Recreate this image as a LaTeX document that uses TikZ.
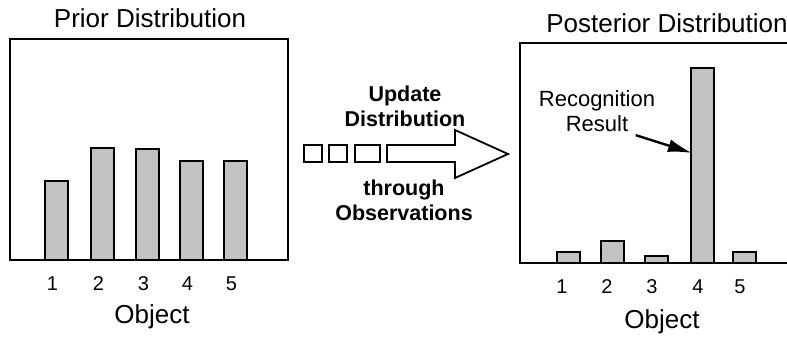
\documentclass[tikz,border=0pt]{standalone}
\usepackage{fontspec}
\setmainfont{Liberation Sans}
\usetikzlibrary{arrows.meta}
\definecolor{cBar}{gray}{0.76}

\tikzset{
    frame/.style={line width=2.4pt, draw=black},
    bar/.style={line width=2.8pt, draw=black, fill=cBar},
    title/.style={font=\fontsize{26}{30}\selectfont},
    tick/.style={font=\fontsize{20}{22}\selectfont},
    axis/.style={font=\fontsize{26}{30}\selectfont},
    step label/.style={font=\fontsize{21.5}{25}\selectfont\bfseries, align=center},
    note/.style={font=\fontsize{22}{25}\selectfont, align=center}
}

\begin{document}
\begin{tikzpicture}[x=1pt, y=-1pt]
    \useasboundingbox (0,0) rectangle (787,337);
    \clip (0,0) rectangle (787,337);

    % Prior distribution panel
    \node[title] (priorT) at (150,18) {Prior Distribution};
    \draw[frame] (10,260) |- (288,39) -- (288,260) -- cycle;
    \foreach \x/\h [count=\i] in {45/181, 91/148, 136/149, 180/161, 224/161} {
        \draw[bar] (\x,260) rectangle (\x+23,\h);
        \node[tick] (priorN\i) at (\x+7.5,284) {\i};
    }
    \node[axis] (priorX) at (152,317) {Object};

    % Update step: observations feeding the big arrow
    \foreach \x/\w in {304/18, 329/18, 355/25} {
        \draw[line width=1.8pt] (\x,145) rectangle (\x+\w,162);
    }
    \draw[line width=1.8pt, line join=miter]
        (387,145) -- (455,145) -- (455,130) -- (508,154)
        -- (455,178) -- (455,162) -- (387,162) -- cycle;
    \node[step label] (upd) at (405,106) {Update\\Distribution};
    \node[step label] (obs) at (404,200) {through\\Observations};

    % Posterior distribution panel (open on the right)
    \node[title] (postT) at (667,23) {Posterior Distribution};
    \draw[frame] (800,43) -- (520,43) -- (520,263) -- (800,263);
    \foreach \x/\h [count=\i] in {557/252, 601/241, 645/256, 691/68, 733/252} {
        \draw[bar] (\x,263) rectangle (\x+23,\h);
    }
    \foreach \x [count=\i] in {562, 607, 652, 698, 740} {
        \node[tick] (postN\i) at (\x,287) {\i};
    }
    \node[axis] (postX) at (662,322) {Object};

    % Label pointing at the winning object
    \coordinate (hit) at (692,153);
    \node[note] (res) at (597,111) {Recognition\\Result};
    \draw[line width=2.4pt, -{Latex[length=24pt, width=13pt]}]
        ([xshift=-23pt]res.south east) -- (hit);
\end{tikzpicture}
\end{document}
